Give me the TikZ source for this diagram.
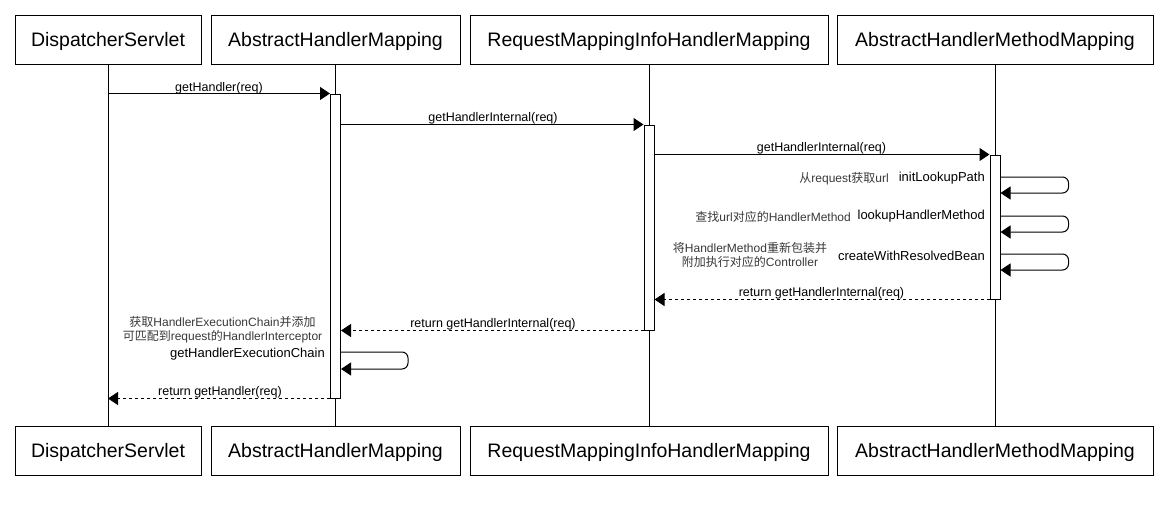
\documentclass[tikz,border=0pt]{standalone}
\usepackage{fontspec}
\setmainfont{Liberation Sans}
\newfontfamily\cjk{Noto Sans CJK SC}
\newcommand{\zh}[1]{{\cjk #1}}
\usetikzlibrary{arrows.meta}

\begin{document}
\begin{tikzpicture}
[every node/.style={inner sep=0pt},
 actor/.style={rectangle, minimum height=49pt, text depth=0pt, line width=1pt, draw=black, font=\fontsize{19.5}{23}\selectfont},
 bar/.style={rectangle, minimum width=10pt, line width=1pt, draw=black, fill=white},
 call/.style={line width=1pt, -{Triangle[length=10pt, width=13pt]}, color=black},
 reply/.style={call, dash pattern=on 3pt off 3pt},
 msglabel/.style={font=\fontsize{12.5}{15}\selectfont},
 selflabel/.style={anchor=east, font=\fontsize{13}{15}\selectfont},
 note/.style={font=\fontsize{12}{14.5}\selectfont, text=black!78, align=center}]
\useasboundingbox (0pt, 0pt) rectangle (1168pt, -509pt);
\node (ds) [actor, minimum width=186pt] at (108.0pt, -39.5pt) {DispatcherServlet};
\node (ahm) [actor, minimum width=249pt] at (335.5pt, -39.5pt) {AbstractHandlerMapping};
\node (rm) [actor, minimum width=358pt] at (649.0pt, -39.5pt) {RequestMappingInfoHandlerMapping};
\node (ahmm) [actor, minimum width=316pt] at (995.0pt, -39.5pt) {AbstractHandlerMethodMapping};
\node (ds2) [actor, minimum width=186pt] at (108.0pt, -450.5pt) {DispatcherServlet};
\node (ahm2) [actor, minimum width=249pt] at (335.5pt, -450.5pt) {AbstractHandlerMapping};
\node (rm2) [actor, minimum width=358pt] at (649.0pt, -450.5pt) {RequestMappingInfoHandlerMapping};
\node (ahmm2) [actor, minimum width=316pt] at (995.0pt, -450.5pt) {AbstractHandlerMethodMapping};
\draw [line width=1pt] (ds) -- (ds2);
\draw [line width=1pt] (ahm) -- (ahm2);
\draw [line width=1pt] (rm) -- (rm2);
\draw [line width=1pt] (ahmm) -- (ahmm2);
\node (ahmbar) [bar, minimum height=304pt] at (335.5pt, -246.0pt) {};
\node (rmbar) [bar, minimum height=205pt] at (649.0pt, -227.5pt) {};
\node (ahmmbar) [bar, minimum height=144pt] at (995.0pt, -227.0pt) {};
\draw [call] (ds |- ahmbar.north) -- (ahmbar.north west);
\draw [call] (ahmbar.east |- rmbar.north) -- (rmbar.north west);
\draw [call] (rmbar.east |- ahmmbar.north) -- (ahmmbar.north west);
\draw [call, rounded corners=6pt] (ahmmbar.east |- 0pt,-177pt) -- ++(68pt, 0pt) |- (ahmmbar.east |- 0pt,-193pt);
\draw [call, rounded corners=6pt] (ahmmbar.east |- 0pt,-216pt) -- ++(68pt, 0pt) |- (ahmmbar.east |- 0pt,-232pt);
\draw [call, rounded corners=6pt] (ahmmbar.east |- 0pt,-254pt) -- ++(68pt, 0pt) |- (ahmmbar.east |- 0pt,-270pt);
\draw [reply] (ahmmbar.south west) -- (rmbar.east |- ahmmbar.south);
\draw [reply] (rmbar.south west) -- (ahmbar.east |- rmbar.south);
\draw [call, rounded corners=6pt] (ahmbar.east |- 0pt,-352pt) -- ++(67pt, 0pt) |- (ahmbar.east |- 0pt,-369pt);
\draw [reply] (ahmbar.south west) -- (ds |- ahmbar.south);
% message texts
\node (m1) [msglabel] at (219.0pt, -88.5pt) {getHandler(req)};
\node (m2) [msglabel] at (493.0pt, -118.5pt) {getHandlerInternal(req)};
\node (m3) [msglabel] at (821.5pt, -148.5pt) {getHandlerInternal(req)};
\node (m4) [msglabel] at (821.5pt, -293.5pt) {return getHandlerInternal(req)};
\node (m5) [msglabel] at (493.0pt, -324.0pt) {return getHandlerInternal(req)};
\node (m6) [msglabel] at (220.0pt, -392.5pt) {return getHandler(req)};
\node (s1) [selflabel] at (985.0pt, -178.5pt) {initLookupPath};
\node (s2) [selflabel] at (985.0pt, -216.5pt) {lookupHandlerMethod};
\node (s3) [selflabel] at (985.0pt, -255.5pt) {createWithResolvedBean};
\node (s4) [selflabel] at (325.0pt, -354.5pt) {getHandlerExecutionChain};
% comments
\node (n1) [note, anchor=east] at (889.0pt, -178.5pt) {\zh{从}request\zh{获取}url};
\node (n2) [note, anchor=east] at (851.0pt, -216.5pt) {\zh{查找}url\zh{对应的}HandlerMethod};
\node (n3) [note] at (750.0pt, -255.0pt) {\zh{将}HandlerMethod\zh{重新包装并}\\\zh{附加执行对应的}Controller};
\node (n4) [note] at (222.5pt, -329.5pt) {\zh{获取}HandlerExecutionChain\zh{并添加}\\\zh{可匹配到}request\zh{的}HandlerInterceptor};
\end{tikzpicture}
\end{document}
